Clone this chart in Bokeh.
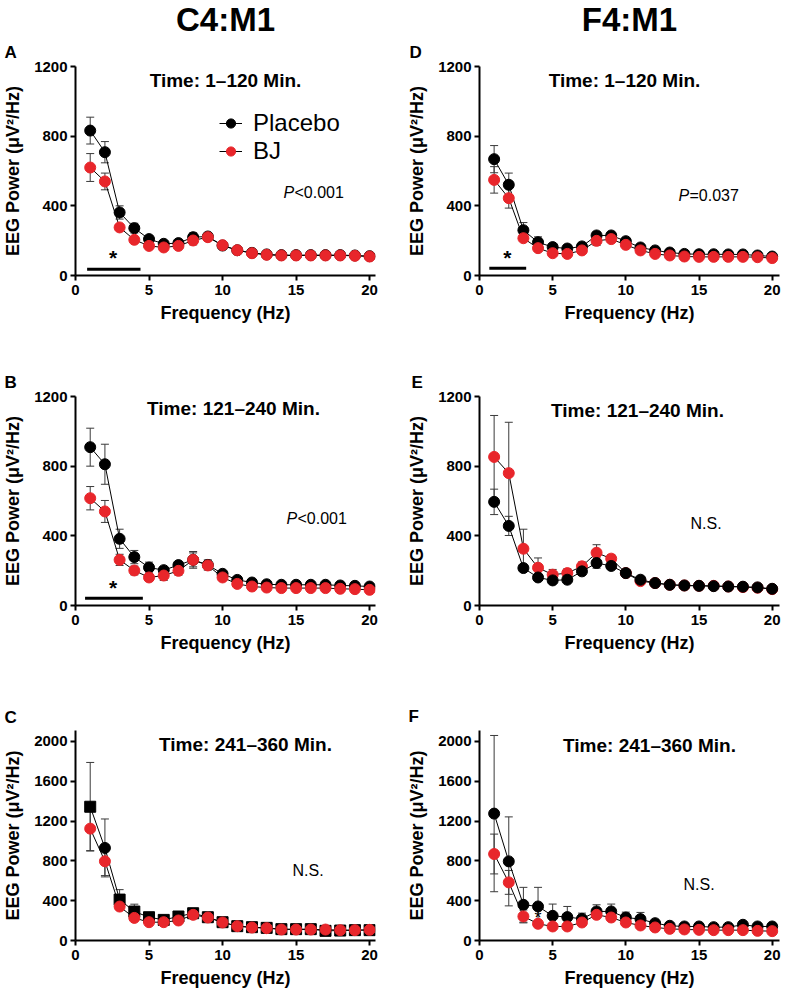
from bokeh.plotting import figure
from bokeh.layouts import column, row
from bokeh.models import (ColumnDataSource, Range1d, FixedTicker, Whisker, TeeHead,
                          Label, Legend, LegendItem, Title)
from bokeh.embed import file_html
from bokeh.resources import INLINE

FONT = "Liberation Sans"
RED = "#e8262b"
BLACK = "#000000"

freq = list(range(1, 21))

# ---- Panel A: C4:M1, 1-120 min
a_placebo = [832, 708, 362, 272, 209, 182, 186, 220, 224, 172, 145, 130, 121, 117, 117, 117, 117, 117, 115, 111]
a_placebo_sem = [77, 61, 38, 28, 12, 10, 10, 25, 22, 10, 8, 6, 5, 5, 5, 5, 5, 5, 5, 5]
a_bj = [620, 540, 276, 205, 170, 161, 170, 201, 220, 174, 145, 128, 119, 115, 115, 115, 115, 115, 113, 109]
a_bj_sem = [80, 48, 15, 12, 12, 12, 12, 25, 20, 10, 8, 6, 5, 5, 5, 5, 5, 5, 5, 5]

# ---- Panel B: C4:M1, 121-240 min
b_placebo = [909, 811, 383, 278, 218, 203, 232, 262, 233, 182, 147, 132, 122, 119, 119, 119, 119, 115, 113, 109]
b_placebo_sem = [109, 115, 55, 38, 31, 20, 15, 48, 29, 10, 8, 6, 5, 5, 5, 5, 5, 5, 5, 5]
b_bj = [616, 540, 262, 201, 161, 172, 199, 262, 230, 161, 124, 109, 103, 100, 100, 100, 100, 96, 94, 90]
b_bj_sem = [67, 63, 32, 25, 22, 28, 25, 40, 25, 10, 8, 6, 5, 5, 5, 5, 5, 5, 5, 5]

# ---- Panel C: C4:M1, 241-360 min
c_placebo = [1344, 930, 411, 291, 234, 207, 241, 274, 234, 184, 144, 134, 127, 114, 114, 114, 97, 100, 104, 104]
c_placebo_sem = [445, 291, 100, 74, 30, 20, 25, 25, 20, 15, 10, 8, 8, 6, 6, 6, 6, 6, 6, 6]
c_bj = [1124, 796, 341, 227, 184, 184, 201, 258, 231, 181, 144, 130, 124, 110, 110, 110, 110, 104, 104, 107]
c_bj_sem = [221, 144, 30, 20, 15, 15, 15, 20, 15, 10, 10, 8, 6, 6, 6, 6, 6, 6, 6, 6]
c_placebo_marker = ["square", "circle"] + ["square"] * 18

# ---- Panel D: F4:M1, 1-120 min
d_placebo = [668, 521, 260, 191, 163, 155, 167, 230, 230, 197, 161, 144, 132, 124, 122, 122, 121, 121, 115, 109]
d_placebo_sem = [78, 67, 44, 31, 20, 20, 20, 20, 18, 18, 10, 8, 6, 5, 5, 5, 5, 5, 5, 5]
d_bj = [549, 444, 214, 157, 128, 124, 144, 199, 209, 176, 144, 124, 115, 109, 107, 107, 107, 107, 105, 100]
d_bj_sem = [76, 57, 15, 12, 10, 10, 12, 27, 15, 10, 8, 6, 5, 5, 5, 5, 5, 5, 5, 5]

# ---- Panel E: F4:M1, 121-240 min
e_placebo = [595, 457, 215, 161, 144, 148, 196, 244, 227, 186, 148, 129, 119, 115, 113, 111, 109, 108, 104, 96]
e_placebo_sem = [73, 55, 15, 12, 10, 10, 12, 30, 20, 10, 8, 6, 5, 5, 5, 5, 5, 5, 5, 5]
e_bj = [853, 760, 326, 217, 177, 186, 225, 303, 269, 186, 140, 129, 119, 115, 113, 113, 109, 106, 102, 94]
e_bj_sem = [238, 292, 112, 56, 30, 25, 25, 46, 23, 10, 8, 6, 5, 5, 5, 5, 5, 5, 5, 5]

# ---- Panel F: F4:M1, 241-360 min
f_placebo = [1275, 795, 359, 342, 248, 235, 218, 292, 292, 231, 215, 174, 148, 141, 141, 134, 134, 158, 141, 141]
f_placebo_sem = [785, 447, 175, 192, 118, 107, 57, 67, 74, 54, 67, 15, 12, 10, 10, 10, 10, 12, 10, 10]
f_bj = [869, 584, 242, 168, 141, 141, 181, 258, 231, 181, 151, 131, 117, 111, 107, 104, 104, 104, 97, 94]
f_bj_sem = [200, 120, 65, 20, 15, 15, 15, 25, 20, 15, 10, 8, 6, 6, 6, 6, 6, 6, 6, 6]

# significance bars (start Hz, end Hz, level) and asterisk positions
a_sig_bar = [0.79, 4.42, 36]
a_star = [2.56, 105]
b_sig_bar = [0.65, 4.58, 42]
b_star = [2.56, 105]
d_sig_bar = [0.67, 3.19, 42]
d_star = [1.9, 105]
f_star = [4.0, 230]

series_names = ["Placebo", "BJ"]
panel_letters = ["A", "B", "C", "D", "E", "F"]
time_labels = ["Time: 1\u2013120 Min.", "Time: 121\u2013240 Min.", "Time: 241\u2013360 Min."]
col_titles = ["C4:M1", "F4:M1"]
y_ticks_small = [0, 400, 800, 1200]
y_ticks_large = [0, 400, 800, 1200, 1600, 2000]
x_ticks = [0, 5, 10, 15, 20]


def add_series(p, y, sem, color, marker="circle"):
    lower = [v - s for v, s in zip(y, sem)]
    upper = [v + s for v, s in zip(y, sem)]
    src = ColumnDataSource(dict(x=freq, y=y, lower=lower, upper=upper,
                                m=marker if isinstance(marker, list) else [marker] * len(freq)))
    w = Whisker(source=src, base="x", lower="lower", upper="upper",
                line_color="#3a3a3a", line_width=1, level="underlay",
                upper_head=TeeHead(size=8, line_color="#3a3a3a", line_width=1),
                lower_head=TeeHead(size=8, line_color="#3a3a3a", line_width=1))
    p.add_layout(w)
    ln = p.line("x", "y", source=src, line_color=BLACK, line_width=1)
    sc = p.scatter("x", "y", source=src, marker="m", size=11, fill_color=color, line_color=color)
    return ln, sc


def label(p, x, y, text, size, style="normal", align="left", units="screen", baseline="alphabetic", x_offset=0):
    p.add_layout(Label(x=x, y=y, x_units=units, y_units=units, text=text,
                       text_font=FONT, text_font_size=size, text_font_style=style,
                       text_align=align, text_baseline=baseline, text_color=BLACK,
                       x_offset=x_offset))


def make_panel(bl, br, bt, bb, fh, xmax, ymax, yticks, letter, letter_offset, letter_standoff,
               header=None, header_offset=0):
    p = figure(frame_width=300, frame_height=fh, x_range=Range1d(0, xmax), y_range=Range1d(0, ymax),
               output_backend="svg", toolbar_location=None,
               min_border_left=bl, min_border_right=br, min_border_top=bt, min_border_bottom=bb)
    p.outline_line_color = None
    p.xgrid.visible = False
    p.ygrid.visible = False
    p.background_fill_color = "white"
    p.border_fill_color = "white"
    p.xaxis.ticker = FixedTicker(ticks=x_ticks)
    p.yaxis.ticker = FixedTicker(ticks=yticks)
    p.xaxis.axis_label = "Frequency (Hz)"
    p.yaxis.axis_label = "EEG Power (\u03bcV\u00b2/Hz)"
    for ax in (p.xaxis, p.yaxis):
        ax.axis_line_width = 2
        ax.axis_line_color = BLACK
        ax.major_tick_line_width = 2
        ax.major_tick_line_color = BLACK
        ax.major_tick_out = 5
        ax.major_tick_in = 0
        ax.minor_tick_line_color = None
        ax.major_label_text_font = FONT
        ax.major_label_text_font_size = "15px"
        ax.major_label_text_font_style = "bold"
        ax.major_label_text_color = BLACK
        ax.axis_label_text_font = FONT
        ax.axis_label_text_font_size = "18px"
        ax.axis_label_text_font_style = "bold"
        ax.axis_label_text_color = BLACK
    p.xaxis.major_label_standoff = 4
    p.xaxis.axis_label_standoff = 5
    p.yaxis.major_label_standoff = 3
    p.yaxis.axis_label_standoff = 8
    p.add_layout(Title(text=letter, align="left", offset=letter_offset, standoff=letter_standoff,
                       text_font=FONT, text_font_size="17px", text_font_style="bold",
                       text_color=BLACK), "above")
    if header is not None:
        p.add_layout(Title(text=header, align="center", offset=header_offset, standoff=-4,
                           text_font=FONT, text_font_size="33px", text_font_style="bold",
                           text_color=BLACK), "above")
    return p


def add_legend(p, renderers_list):
    for i, (name, rends) in enumerate(zip(series_names, renderers_list)):
        p.add_layout(Legend(items=[LegendItem(label=name, renderers=list(rends))],
                            location=(144, 138 - 28 * i),
                            label_text_font=FONT, label_text_font_size="24px", label_text_color=BLACK,
                            glyph_width=23, glyph_height=24, label_height=24, label_standoff=11,
                            padding=0, margin=0, spacing=0,
                            background_fill_alpha=0, border_line_color=None))


# ---------------- A
pA = make_panel(72, 18, 40, 52, 209, 20.4, 1200, y_ticks_small, panel_letters[0], -71, 10, col_titles[0], -8)
rA1 = add_series(pA, a_placebo, a_placebo_sem, BLACK)
rA2 = add_series(pA, a_bj, a_bj_sem, RED)
pA.segment(x0=[a_sig_bar[0]], x1=[a_sig_bar[1]], y0=[a_sig_bar[2]], y1=[a_sig_bar[2]], line_width=3, line_color=BLACK)
label(pA, a_star[0], a_star[1], "*", "21px", "bold", "center", units="data")
label(pA, 150, 195, time_labels[0], "19px", "bold", "center")
label(pA, 208, 83, "P", "16px", "italic")
label(pA, 208, 83, "<0.001", "16px", x_offset=11)
add_legend(pA, [rA1, rA2])

# ---------------- D
pD = make_panel(86, 5, 40, 52, 209, 20.5, 1200, y_ticks_small, panel_letters[3], -70, 10, col_titles[1], -3)
add_series(pD, d_placebo, d_placebo_sem, BLACK)
add_series(pD, d_bj, d_bj_sem, RED)
pD.segment(x0=[d_sig_bar[0]], x1=[d_sig_bar[1]], y0=[d_sig_bar[2]], y1=[d_sig_bar[2]], line_width=3, line_color=BLACK)
label(pD, d_star[0], d_star[1], "*", "21px", "bold", "center", units="data")
label(pD, 145, 195, time_labels[0], "19px", "bold", "center")
label(pD, 199, 80, "P", "16px", "italic")
label(pD, 199, 80, "=0.037", "16px", x_offset=11)

# ---------------- B
pB = make_panel(72, 18, 69, 52, 209, 20.4, 1200, y_ticks_small, panel_letters[1], -71, 9)
add_series(pB, b_placebo, b_placebo_sem, BLACK)
add_series(pB, b_bj, b_bj_sem, RED)
pB.segment(x0=[b_sig_bar[0]], x1=[b_sig_bar[1]], y0=[b_sig_bar[2]], y1=[b_sig_bar[2]], line_width=3, line_color=BLACK)
label(pB, b_star[0], b_star[1], "*", "21px", "bold", "center", units="data")
label(pB, 158, 197, time_labels[1], "19px", "bold", "center")
label(pB, 211, 87, "P", "16px", "italic")
label(pB, 211, 87, "<0.001", "16px", x_offset=11)

# ---------------- E
pE = make_panel(86, 5, 69, 52, 209, 20.5, 1200, y_ticks_small, panel_letters[4], -68, 9)
add_series(pE, e_bj, e_bj_sem, RED)
add_series(pE, e_placebo, e_placebo_sem, BLACK)
label(pE, 158, 195, time_labels[1], "19px", "bold", "center")
label(pE, 211, 82, "N.S.", "16px")

# ---------------- C
pC = make_panel(72, 18, 73, 52, 210, 20.4, 2110, y_ticks_large, panel_letters[2], -71, 7)
add_series(pC, c_placebo, c_placebo_sem, BLACK, marker=c_placebo_marker)
add_series(pC, c_bj, c_bj_sem, RED)
label(pC, 170, 196, time_labels[2], "19px", "bold", "center")
label(pC, 217, 70, "N.S.", "16px")

# ---------------- F
pF = make_panel(86, 5, 73, 52, 210, 20.5, 2110, y_ticks_large, panel_letters[5], -71, 10)
add_series(pF, f_placebo, f_placebo_sem, BLACK)
add_series(pF, f_bj, f_bj_sem, RED)
label(pF, f_star[0], f_star[1], "*", "18px", "normal", "center", units="data")
label(pF, 170, 195, time_labels[2], "19px", "bold", "center")
label(pF, 204, 56, "N.S.", "16px")

layout = column(row(pA, pD, spacing=0), row(pB, pE, spacing=0), row(pC, pF, spacing=0), spacing=0)

open("out.html", "w").write(file_html(layout, INLINE))
